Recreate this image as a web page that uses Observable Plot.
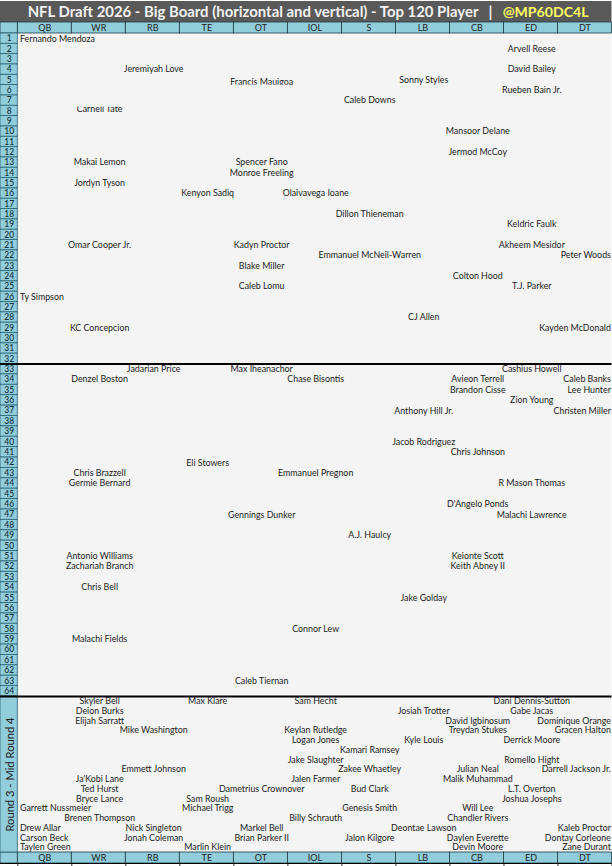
<!DOCTYPE html>
<html>
<head>
<meta charset="utf-8">
<script src="https://cdn.jsdelivr.net/npm/d3@7"></script>
<script src="https://cdn.jsdelivr.net/npm/@observablehq/plot@0.6"></script>
<style>
  html, body { margin: 0; padding: 0; background: #fff; }
  svg { display: block; }
</style>
</head>
<body>
<div id="chart"></div>
<script>
const positions = ["QB", "WR", "RB", "TE", "OT", "IOL", "S", "LB", "CB", "ED", "DT"];

// [row on the board, player]
const QB = [[1, "Fernando Mendoza"], [26, "Ty Simpson"], [76, "Garrett Nussmeier"], [78, "Drew Allar"], [79, "Carson Beck"], [80, "Taylen Green"]];
const WR = [[7.8, "Carnell Tate"], [13, "Makai Lemon"], [15, "Jordyn Tyson"], [21, "Omar Cooper Jr."], [29, "KC Concepcion"], [34, "Denzel Boston"], [43, "Chris Brazzell"], [44, "Germie Bernard"], [51, "Antonio Williams"], [52, "Zachariah Branch"], [54, "Chris Bell"], [59, "Malachi Fields"], [65, "Skyler Bell"], [66, "Deion Burks"], [67, "Elijah Sarratt"], [73, "Ja'Kobi Lane"], [74, "Ted Hurst"], [75, "Bryce Lance"], [77, "Brenen Thompson"]];
const RB = [[4, "Jeremiyah Love"], [33, "Jadarian Price"], [68, "Mike Washington"], [72, "Emmett Johnson"], [78, "Nick Singleton"], [79, "Jonah Coleman"]];
const TE = [[16, "Kenyon Sadiq"], [42, "Eli Stowers"], [65, "Max Klare"], [75, "Sam Roush"], [76, "Michael Trigg"], [80, "Marlin Klein"]];
const OT = [[5.25, "Francis Mauigoa"], [13, "Spencer Fano"], [14, "Monroe Freeling"], [21, "Kadyn Proctor"], [23, "Blake Miller"], [25, "Caleb Lomu"], [33, "Max Iheanachor"], [47, "Gennings Dunker"], [63, "Caleb Tiernan"], [74, "Dametrius Crownover"], [78, "Markel Bell"], [79, "Brian Parker II"]];
const IOL = [[16, "Olaivavega Ioane"], [34, "Chase Bisontis"], [43, "Emmanuel Pregnon"], [58, "Connor Lew"], [65, "Sam Hecht"], [68, "Keylan Rutledge"], [69, "Logan Jones"], [71, "Jake Slaughter"], [73, "Jalen Farmer"], [77, "Billy Schrauth"]];
const S = [[7, "Caleb Downs"], [18, "Dillon Thieneman"], [22, "Emmanuel McNeil-Warren"], [49, "A.J. Haulcy"], [70, "Kamari Ramsey"], [72, "Zakee Whaetley"], [74, "Bud Clark"], [76, "Genesis Smith"], [79, "Jalon Kilgore"]];
const LB = [[5, "Sonny Styles"], [28, "CJ Allen"], [37, "Anthony Hill Jr."], [40, "Jacob Rodriguez"], [55, "Jake Golday"], [66, "Josiah Trotter"], [69, "Kyle Louis"], [78, "Deontae Lawson"]];
const CB = [[10, "Mansoor Delane"], [12, "Jermod McCoy"], [24, "Colton Hood"], [34, "Avieon Terrell"], [35, "Brandon Cisse"], [41, "Chris Johnson"], [46, "D'Angelo Ponds"], [51, "Keionte Scott"], [52, "Keith Abney II"], [67, "David Igbinosum"], [68, "Treydan Stukes"], [72, "Julian Neal"], [73, "Malik Muhammad"], [76, "Will Lee"], [77, "Chandler Rivers"], [79, "Daylen Everette"], [80, "Devin Moore"]];
const ED = [[2, "Arvell Reese"], [4, "David Bailey"], [6, "Rueben Bain Jr."], [19, "Keldric Faulk"], [21, "Akheem Mesidor"], [25, "T.J. Parker"], [33, "Cashius Howell"], [36, "Zion Young"], [44, "R Mason Thomas"], [47, "Malachi Lawrence"], [65, "Dani Dennis-Sutton"], [66, "Gabe Jacas"], [69, "Derrick Moore"], [71, "Romello Hight"], [74, "L.T. Overton"], [75, "Joshua Josephs"]];
const DT = [[22, "Peter Woods"], [29, "Kayden McDonald"], [34, "Caleb Banks"], [35, "Lee Hunter"], [37, "Christen Miller"], [67, "Dominique Orange"], [68, "Gracen Halton"], [72, "Darrell Jackson Jr."], [78, "Kaleb Proctor"], [79, "Dontay Corleone"], [80, "Zane Durant"]];

const numberedRows = d3.range(1, 65);
const title = "NFL Draft 2026 - Big Board (horizontal and vertical) - Top 120 Player";
const separator = "|";
const handle = "@MP60DC4L";
const sideLabel = "Round 3 - Mid Round 4";

const board = [QB, WR, RB, TE, OT, IOL, S, LB, CB, ED, DT];
const players = board.flatMap((list, i) =>
  list.map(([row, name]) => ({row, name, pos: positions[i], col: i}))
);
const headers = [0, 81].flatMap(row => positions.map((pos, col) => ({row, pos, col})));

const font = "Lato, 'Noto Sans', sans-serif";
const cyan = "#92cddc";
const edge = "#1f3a44";
const cellEdge = "#2a6373";
const ink = "#222222";
const paper = "#f4f4f4";
const nameSize = 8.85;

const chart = Plot.plot({
  width: 612,
  height: 866,
  margin: 0,
  style: {background: "#ffffff", fontFamily: font},
  x: {type: "linear", axis: null, domain: [-0.32, 11], range: [0, 611.5]},
  y: {
    type: "linear",
    axis: null,
    domain: [-1.5, -0.5, 0.5, 32.5, 64.5, 80.5, 81.5, 82],
    range: [1, 22, 33, 363.5, 696, 852, 863, 866]
  },
  marks: [
    // board background and title bar
    Plot.rect([0], {x1: -0.32, x2: 11, y1: 0.5, y2: 80.5, fill: paper}),
    Plot.rect([0], {x1: -0.32, x2: 11, y1: -1.5, y2: -0.5, fill: "#595959"}),

    // header and footer cells
    Plot.rect(headers, {x1: d => d.col, x2: d => d.col + 1, y1: d => d.row - 0.5, y2: d => d.row + 0.5, fill: cyan, stroke: edge, strokeWidth: 0.8}),
    Plot.rect([0, 81], {x1: -0.32, x2: 0, y1: d => d - 0.5, y2: d => d + 0.5, fill: cyan, stroke: edge, strokeWidth: 0.8}),
    Plot.text(headers, {x: d => d.col + 0.5, y: "row", text: "pos", fontSize: 9, fill: ink}),
    Plot.ruleX(d3.range(0, 12), {y1: 81.5, y2: 82, stroke: "#000000", strokeWidth: 0.8}),
    Plot.ruleY([81.5], {x1: -0.32, x2: 11, stroke: "#000000", strokeWidth: 1}),

    // row numbers
    Plot.rect(numberedRows, {x1: -0.32, x2: 0, y1: d => d - 0.5, y2: d => d + 0.5, fill: cyan, stroke: cellEdge, strokeWidth: 0.8}),
    Plot.text(numberedRows, {x: -0.16, y: d => d, text: d => String(d), fontSize: 8.5, fontWeight: 500, fill: "#12303a"}),

    // side label for the last block
    Plot.rect([0], {x1: -0.32, x2: 0, y1: 64.5, y2: 80.5, fill: cyan, stroke: cellEdge, strokeWidth: 0.8}),
    Plot.text([sideLabel], {x: -0.16, y: 72.5, dx: 1.5, text: d => d, rotate: -90, fontSize: 11.2, fill: ink}),

    // round separators
    Plot.ruleY([32.5, 64.5], {x1: -0.32, x2: 11, stroke: "#000000", strokeWidth: 2}),

    // players, QB hugs the left edge and DT the right edge
    Plot.text(players.filter(d => d.pos === "QB"), {x: 0.04, y: "row", text: "name", textAnchor: "start", fontSize: nameSize, fill: ink}),
    Plot.text(players.filter(d => d.pos === "DT"), {x: 10.98, y: "row", text: "name", textAnchor: "end", fontSize: nameSize, fill: ink}),
    Plot.text(players.filter(d => d.pos !== "QB" && d.pos !== "DT"), {x: d => d.col + 0.5, y: "row", dx: 0.8, text: "name", fontSize: nameSize, fill: ink}),

    // names the spreadsheet cuts off at a row edge
    Plot.rect([[1, 7.1, 7.63], [4, 5.5, 5.9]], {x1: d => d[0], x2: d => d[0] + 1, y1: d => d[1], y2: d => d[2], fill: paper}),

    // title
    Plot.text([title], {x: 4.355, y: -1, dy: 0.5, text: d => d, fontSize: 14.9, fontWeight: 700, fill: "#f2f2f2"}),
    Plot.text([separator], {x: 8.75, y: -1, dy: 0.5, text: d => d, fontSize: 14.9, fontWeight: 700, fill: "#f2f2f2"}),
    Plot.text([handle], {x: 9.77, y: -1, dy: 0.5, text: d => d, fontSize: 14.1, fontWeight: 700, fill: "#ffff66"})
  ]
});

document.getElementById("chart").append(chart);
</script>
</body>
</html>
